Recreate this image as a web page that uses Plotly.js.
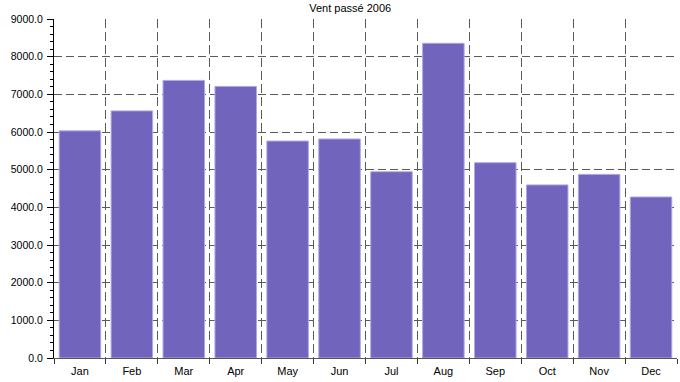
<!DOCTYPE html>
<html>
<head>
<meta charset="utf-8">
<script src="https://cdn.plot.ly/plotly-3.0.1.min.js"></script>
<style>html,body{margin:0;padding:0;background:#fff;}#chart{width:680px;height:382px;}</style>
</head>
<body>
<div id="chart"></div>
<script>
const months = ["Jan","Feb","Mar","Apr","May","Jun","Jul","Aug","Sep","Oct","Nov","Dec"];
const windValues = [6030, 6560, 7370, 7210, 5760, 5815, 4945, 8355, 5185, 4595, 4875, 4275];
const chartTitle = "Vent passé 2006";

const trace = {
  type: "bar",
  x: months,
  y: windValues,
  marker: {color: "#7064bd", line: {color: "#b0a8e2", width: 1}},
  hoverinfo: "x+y"
};

const fam = "Liberation Sans, Arial, sans-serif";
const layout = {
  width: 680, height: 382,
  margin: {l: 54, r: 3, t: 19, b: 24, pad: 0},
  paper_bgcolor: "#fff", plot_bgcolor: "#fff",
  showlegend: false,
  bargap: 0.2,
  font: {family: fam, size: 11, color: "#000"},
  title: {text: chartTitle, x: 0.515, xanchor: "center", y: 0.988, yanchor: "top",
          font: {family: fam, size: 11, color: "#000"}},
  xaxis: {
    type: "category",
    tickson: "boundaries",
    ticks: "outside", ticklen: 5, tickcolor: "#333", tickwidth: 1,
    ticklabelstandoff: 3,
    showline: true, linecolor: "#555", linewidth: 1,
    showgrid: true, gridcolor: "#5a5a5a", griddash: "9px,4px", gridwidth: 1,
    tickfont: {family: fam, size: 11},
    fixedrange: true,
    range: [-0.5, 11.5]
  },
  yaxis: {
    range: [0, 9000],
    dtick: 1000,
    tickformat: ".1f",
    ticks: "outside", ticklen: 6, tickcolor: "#000", tickwidth: 1,
    ticklabelstandoff: 2,
    minor: {dtick: 200, ticks: "outside", ticklen: 3, tickcolor: "#000", showgrid: false},
    showline: true, linecolor: "#000", linewidth: 1,
    showgrid: true, gridcolor: "#5a5a5a", griddash: "8px,4px", gridwidth: 1,
    zeroline: false,
    tickfont: {family: fam, size: 10.5},
    fixedrange: true
  }
};

Plotly.newPlot("chart", [trace], layout, {displayModeBar: false, staticPlot: true});
</script>
</body>
</html>
